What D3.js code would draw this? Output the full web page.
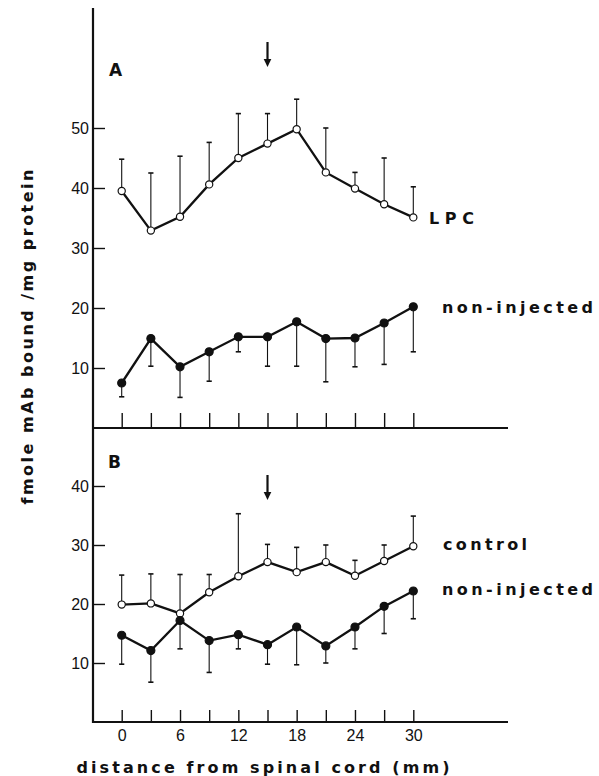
<!DOCTYPE html>
<html>
<head>
<meta charset="utf-8">
<script src="https://cdn.jsdelivr.net/npm/d3@7"></script>
<style>
  body { margin: 0; background: #fff; }
  svg { display: block; }
  text { font-family: "Liberation Sans", Arial, sans-serif; fill: #111; }
  text.bold { font-family: "DejaVu Sans", "Liberation Sans", sans-serif; font-weight: bold; }
</style>
</head>
<body>
<svg id="chart" width="599" height="776"></svg>
<script>
// distance from spinal cord (mm)
const distances = [0, 3, 6, 9, 12, 15, 18, 21, 24, 27, 30];

// panel A
const lpcMean  = [39.5, 32.9, 35.2, 40.6, 45.0, 47.4, 49.8, 42.6, 39.9, 37.3, 35.1];
const lpcUpper = [44.8, 42.5, 45.3, 47.6, 52.4, 52.4, 54.8, 50.0, 42.6, 45.0, 40.2];
const nonAMean  = [7.5, 14.9, 10.2, 12.7, 15.2, 15.2, 17.7, 14.9, 15.0, 17.5, 20.2];
const nonALower = [5.2, 10.3, 5.1, 7.8, 12.7, 10.3, 10.3, 7.7, 10.2, 10.6, 12.7];

// panel B
const ctrlMean  = [19.9, 20.1, 18.4, 22.0, 24.7, 27.1, 25.4, 27.1, 24.8, 27.3, 29.8];
const ctrlUpper = [24.9, 25.1, 25.0, 25.0, 35.3, 30.1, 29.6, 30.0, 27.4, 30.0, 34.9];
const nonBMean  = [14.7, 12.1, 17.2, 13.8, 14.8, 13.1, 16.1, 12.9, 16.1, 19.6, 22.2];
const nonBLower = [9.8, 6.75, 12.4, 8.4, 12.4, 9.8, 9.7, 10.0, 12.4, 15.0, 17.5];

const yTicksA = [10, 20, 30, 40, 50];
const yTicksB = [10, 20, 30, 40];
const xLabelTicks = [0, 6, 12, 18, 24, 30];
const injectionSite = 15;

const svg = d3.select("#chart");

const x = d3.scaleLinear().domain([0, 30]).range([121.7, 413.3]);
const yA = d3.scaleLinear().domain([0, 70]).range([428, 8]);
const yB = d3.scaleLinear().domain([0, 50]).range([722, 427]);

const axisX0 = 93, axisX1 = 508;

// y axes (ticks point inward)
svg.append("g")
	.attr("transform", `translate(${axisX0},0)`)
	.call(d3.axisLeft(yA).tickValues(yTicksA).tickSizeInner(-12).tickSizeOuter(0).tickPadding(4));
svg.append("g")
	.attr("transform", `translate(${axisX0},0)`)
	.call(d3.axisLeft(yB).tickValues(yTicksB).tickSizeInner(-12).tickSizeOuter(0).tickPadding(4));

// x axes, ticks every 3 mm pointing up
svg.append("g")
	.attr("transform", `translate(0,${yA(0)})`)
	.call(d3.axisBottom(x).tickValues(distances).tickSizeInner(-15).tickSizeOuter(0).tickFormat(""));
svg.append("g")
	.attr("transform", `translate(0,${yB(0)})`)
	.call(d3.axisBottom(x).tickValues(distances).tickSizeInner(-12).tickSizeOuter(0).tickPadding(8)
		.tickFormat((d) => (xLabelTicks.includes(d) ? d : "")));

svg.selectAll(".domain").remove();
svg.selectAll(".tick line").attr("stroke", "#111").attr("stroke-width", 1.4);
svg.selectAll(".tick text").style("font-size", "16px").attr("fill", "#111");

// axis lines
svg.append("line").attr("x1", axisX0).attr("x2", axisX0).attr("y1", 8).attr("y2", yB(0) + 1)
	.attr("stroke", "#111").attr("stroke-width", 2.2);
svg.append("line").attr("x1", axisX0).attr("x2", axisX1).attr("y1", yA(0)).attr("y2", yA(0))
	.attr("stroke", "#111").attr("stroke-width", 2.2);
svg.append("line").attr("x1", axisX0).attr("x2", axisX1).attr("y1", yB(0)).attr("y2", yB(0))
	.attr("stroke", "#111").attr("stroke-width", 2.2);

function drawSeries(y, mean, bound, filled) {
	const g = svg.append("g");
	const pts = distances.map((d, i) => ({ d, m: mean[i], b: bound[i] }));

	// error bars (one-sided)
	g.selectAll("line.err").data(pts).enter().append("line")
		.attr("x1", (p) => x(p.d)).attr("x2", (p) => x(p.d))
		.attr("y1", (p) => y(p.m)).attr("y2", (p) => y(p.b))
		.attr("stroke", "#111").attr("stroke-width", 1.1);
	g.selectAll("line.cap").data(pts).enter().append("line")
		.attr("x1", (p) => x(p.d) - 2.6).attr("x2", (p) => x(p.d) + 2.6)
		.attr("y1", (p) => y(p.b)).attr("y2", (p) => y(p.b))
		.attr("stroke", "#111").attr("stroke-width", 1.6);

	g.append("path").datum(pts)
		.attr("d", d3.line().x((p) => x(p.d)).y((p) => y(p.m)))
		.attr("fill", "none").attr("stroke", "#111").attr("stroke-width", 2.3);

	g.selectAll("circle").data(pts).enter().append("circle")
		.attr("cx", (p) => x(p.d)).attr("cy", (p) => y(p.m))
		.attr("r", filled ? 4 : 3.6)
		.attr("fill", filled ? "#111" : "#fff")
		.attr("stroke", "#111").attr("stroke-width", 1.2);
}

drawSeries(yA, lpcMean, lpcUpper, false);
drawSeries(yA, nonAMean, nonALower, true);
drawSeries(yB, ctrlMean, ctrlUpper, false);
drawSeries(yB, nonBMean, nonBLower, true);

// injection site arrows
function arrow(yTop, yBot) {
	const cx = x(injectionSite);
	svg.append("line").attr("x1", cx).attr("x2", cx).attr("y1", yTop).attr("y2", yBot - 6)
		.attr("stroke", "#111").attr("stroke-width", 2.2);
	svg.append("path")
		.attr("d", `M${cx - 3.8},${yBot - 8} L${cx + 3.8},${yBot - 8} L${cx},${yBot} Z`)
		.attr("fill", "#111");
}
arrow(42, 67);
arrow(475, 500);

// labels
function label(txt, tx, ty, len, size) {
	const t = svg.append("text").attr("class", "bold").attr("x", tx).attr("y", ty)
		.style("font-size", size + "px").text(txt);
	if (len) t.attr("textLength", len).attr("lengthAdjust", "spacing");
}
label("A", 109, 76, null, 17);
label("B", 108, 468, null, 17);
label("LPC", 429, 224, 45, 16);
label("non-injected", 442, 313, 151, 16);
label("control", 443, 550, 84, 16);
label("non-injected", 442, 595, 151, 16);

// axis titles
svg.append("text").attr("class", "bold").attr("x", 263).attr("y", 773)
	.attr("text-anchor", "middle").attr("textLength", 373).attr("lengthAdjust", "spacing")
	.style("font-size", "16px")
	.text("distance from spinal cord (mm)");
svg.append("text").attr("class", "bold").attr("transform", "translate(33,337) rotate(-90)")
	.attr("text-anchor", "middle").attr("textLength", 335).attr("lengthAdjust", "spacing")
	.style("font-size", "16px")
	.text("fmole mAb bound /mg protein");
</script>
</body>
</html>
